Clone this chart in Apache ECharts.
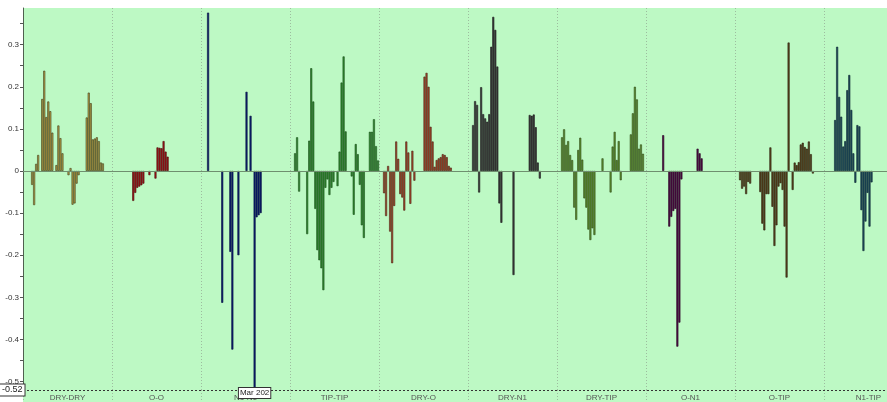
<!DOCTYPE html>
<html>
<head>
<meta charset="utf-8">
<script src="https://cdn.jsdelivr.net/npm/echarts@6/dist/echarts.min.js"></script>
<style>
  html, body { margin: 0; padding: 0; background: #fff; overflow: hidden; }
  /* the plot runs past the right edge of the window, as in the original */
  #chart { width: 913px; height: 402px; }
</style>
</head>
<body>
<div id="chart"></div>
<script>
const groups = ['DRY-DRY', 'O-O', 'N1-N1', 'TIP-TIP', 'DRY-O', 'DRY-N1', 'DRY-TIP', 'O-N1', 'O-TIP', 'N1-TIP'];
const SLOTS = 44; // bar positions in each panel

// [slot, value] pairs, one list per panel
const dryDry = [[4,-0.033],[5,-0.081],[6,0.017],[7,0.038],[9,0.171],[10,0.238],[11,0.128],[12,0.165],[13,0.142],[14,0.091],
  [16,0.014],[17,0.108],[18,0.078],[19,0.042],[22,-0.01],[23,0.007],[24,-0.08],[25,-0.077],[26,-0.03],[27,-0.01],
  [31,0.127],[32,0.186],[33,0.161],[34,0.075],[35,0.077],[36,0.08],[37,0.071],[38,0.02],[39,0.018]];
const oO = [[10,-0.071],[11,-0.052],[12,-0.04],[13,-0.037],[14,-0.034],[15,-0.03],[18,-0.01],[21,-0.018],
  [22,0.056],[23,0.055],[24,0.054],[25,0.071],[26,0.046],[27,0.034]];
const n1N1 = [[3,0.376],[10,-0.313],[14,-0.192],[15,-0.424],[18,-0.2],[22,0.188],[24,0.131],[26,-0.52],[27,-0.11],[28,-0.105],[29,-0.1]];
const tipTip = [[2,0.042],[3,0.08],[4,-0.049],[8,-0.15],[9,0.072],[10,0.244],[11,0.165],[12,-0.09],[13,-0.188],[14,-0.212],
  [15,-0.231],[16,-0.283],[17,-0.04],[18,-0.02],[19,-0.057],[20,-0.04],[21,-0.026],[23,-0.036],[24,0.046],[25,0.21],
  [26,0.272],[27,0.094],[30,-0.013],[31,-0.104],[32,0.064],[33,0.04],[34,-0.033],[35,-0.129],[36,-0.159],
  [39,0.093],[40,0.093],[41,0.123],[42,0.059],[43,0.025]];
const dryO = [[2,-0.053],[3,-0.107],[4,0.012],[5,-0.144],[6,-0.219],[7,-0.083],[8,0.07],[9,0.029],[10,-0.055],[11,-0.063],
  [12,-0.094],[13,0.07],[14,0.044],[15,-0.078],[16,0.048],[17,-0.023],[22,0.224],[23,0.233],[24,0.2],[25,0.105],
  [26,0.07],[27,0.01],[28,0.026],[29,0.03],[30,0.033],[31,0.04],[32,0.038],[33,0.033],[34,0.012],[35,0.008]];
const dryN1 = [[2,0.109],[3,0.166],[4,0.157],[5,-0.051],[6,0.199],[7,0.135],[8,0.125],[9,0.117],[10,0.135],[11,0.295],
  [12,0.366],[13,0.335],[14,0.248],[15,-0.077],[16,-0.123],[22,-0.247],[30,0.133],[31,0.131],[32,0.134],[33,0.104],
  [34,0.02],[35,-0.018]];
const dryTip = [[2,0.08],[3,0.099],[4,0.062],[5,0.071],[6,0.038],[7,0.026],[8,-0.087],[9,-0.116],[10,0.05],[11,0.079],
  [12,0.027],[13,-0.065],[14,-0.087],[15,-0.139],[16,-0.164],[17,-0.136],[18,-0.152],[22,0.03],[26,-0.051],[27,0.058],
  [28,0.093],[29,0.026],[30,0.071],[31,-0.022],[36,0.087],[37,0.137],[38,0.2],[39,0.17],[40,0.053],[41,0.063],[42,0.041]];
const oN1 = [[8,0.085],[11,-0.132],[12,-0.109],[13,-0.095],[14,-0.09],[15,-0.417],[16,-0.36],[17,-0.02],
  [25,0.053],[26,0.042],[27,0.03]];
const oTip = [[2,-0.022],[3,-0.042],[4,-0.037],[5,-0.055],[6,-0.026],[7,-0.03],[12,-0.05],[13,-0.125],[14,-0.141],
  [15,-0.055],[16,-0.055],[17,0.056],[18,-0.085],[19,-0.178],[20,-0.129],[21,-0.037],[22,-0.029],[23,-0.045],
  [24,-0.132],[25,-0.253],[26,0.305],[28,-0.045],[29,0.02],[30,0.014],[31,0.021],[32,0.063],[33,0.067],[34,0.057],
  [35,0.053],[36,0.07],[37,0.04],[38,-0.006]];
const n1Tip = [[5,0.121],[6,0.295],[7,0.176],[8,0.129],[9,0.058],[10,0.071],[11,0.192],[12,0.228],[13,0.145],[14,0.042],
  [15,-0.028],[16,0.109],[17,0.106],[18,-0.093],[19,-0.19],[20,-0.12],[21,-0.052],[22,-0.132],[23,-0.027]];

const yLabels = [-0.5, -0.4, -0.3, -0.2, -0.1, 0, 0.1, 0.2, 0.3];
const yTicks = [-0.5, -0.45, -0.4, -0.35, -0.3, -0.25, -0.2, -0.15, -0.1, -0.05, 0, 0.05, 0.1, 0.15, 0.2, 0.25, 0.3, 0.35];

const panels = [dryDry, oO, n1N1, tipTip, dryO, dryN1, dryTip, oN1, oTip, n1Tip];
const fills = ['#b9a24a', '#a3151a', '#0b1d6e', '#2f8a2f', '#a5492c', '#3b3b3b', '#5d8f2f', '#4e0d45', '#5a4420', '#1f4d5e'];
const edges = ['#3d3a18', '#4a0a0a', '#061040', '#1b4d1b', '#4a2012', '#1c1c1c', '#2f4a18', '#2a0525', '#2a200c', '#0d2630'];

const bg = '#bdf9c4';

const slotCats = [];
for (let i = 0; i < groups.length * SLOTS; i++) slotCats.push(i);
const barData = slotCats.map(() => '-');
panels.forEach((p, g) => p.forEach(([s, v]) => {
  barData[g * SLOTS + s] = { value: v, itemStyle: { color: fills[g], borderColor: edges[g] } };
}));

const chart = echarts.init(document.getElementById('chart'));
chart.setOption({
  animation: false,
  backgroundColor: '#fff',
  grid: { left: 23, right: 0, top: 8, bottom: 12, show: true, backgroundColor: bg, borderWidth: 0 },
  graphic: [{ type: 'rect', z: -10, shape: { x: 23, y: 390, width: 890, height: 12 }, style: { fill: bg } }],
  xAxis: [{
    type: 'category', data: groups, position: 'bottom',
    axisLine: { show: false, onZero: false },
    axisTick: { show: true, length: 12, lineStyle: { color: '#9dbd9f', type: [1, 2] } },
    axisLabel: { interval: 0, fontSize: 8, color: '#555', margin: 4, fontFamily: 'Liberation Sans' },
    splitLine: { show: true, lineStyle: { color: '#9dbd9f', type: [1, 2] } }
  }, {
    type: 'category', data: slotCats, position: 'bottom',
    axisLine: { show: false, onZero: false }, axisTick: { show: false }, axisLabel: { show: false },
    splitLine: { show: false },
    axisPointer: {
      show: true, value: 2 * SLOTS + 26, status: 'show', type: 'none',
      label: { show: true, formatter: () => 'Mar 202', backgroundColor: '#fff', borderColor: '#333', borderWidth: 1,
        borderRadius: 0, color: '#222', fontSize: 8, padding: [1, 1, 1, 1], margin: -2, fontFamily: 'Liberation Sans' }
    }
  }],
  yAxis: {
    type: 'value', min: -0.52, max: 0.387,
    axisLine: { show: true, lineStyle: { color: '#4f5f4f' } },
    axisTick: { show: true, length: 3, customValues: yTicks, lineStyle: { color: '#555' } },
    axisLabel: { customValues: yLabels, fontSize: 8, color: '#333', margin: 4, fontFamily: 'Liberation Sans' },
    splitLine: { show: false },
    axisPointer: {
      show: true, value: -0.52, status: 'show', type: 'line',
      lineStyle: { color: '#333', type: [2, 2], width: 1 },
      label: { show: true, formatter: p => Number(p.value).toFixed(2), backgroundColor: '#fff', borderColor: '#333',
        borderWidth: 1, borderRadius: 0, color: '#222', fontSize: 9, padding: [1, 2], margin: 5, fontFamily: 'Liberation Sans' }
    }
  },
  series: [{
    type: 'bar', xAxisIndex: 1, data: barData, barCategoryGap: '0%',
    itemStyle: { borderWidth: 0.6 },
    markLine: {
      silent: true, symbol: 'none', label: { show: false },
      lineStyle: { color: '#6f8f6f', type: 'solid', width: 1 },
      data: [{ yAxis: 0 }]
    }
  }]
});
</script>
</body>
</html>
